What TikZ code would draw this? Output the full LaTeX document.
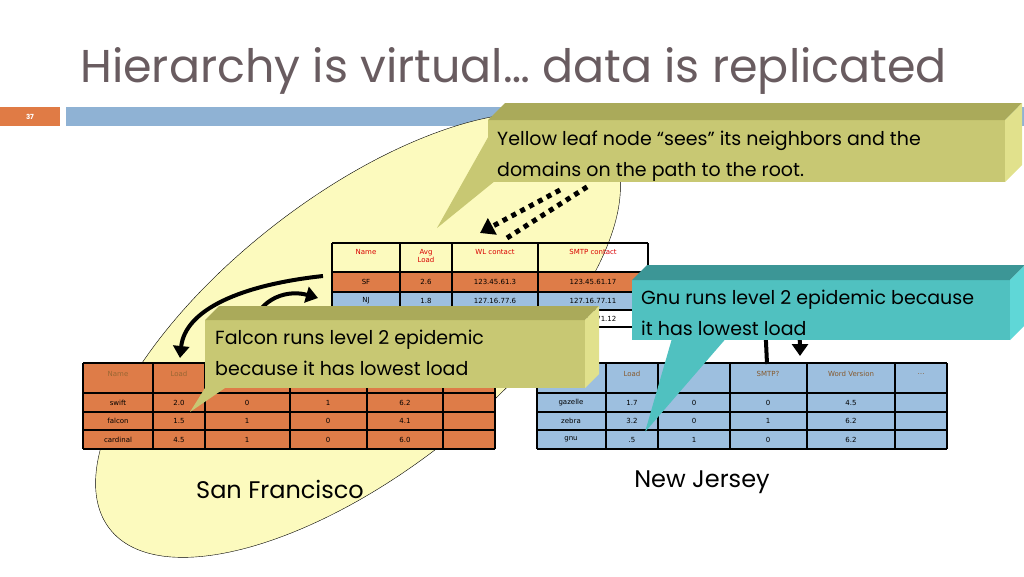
\documentclass[tikz,border=0pt]{standalone}
\usepackage{fontspec}
\setmainfont{Poppins}
\newfontfamily\cellfont{DejaVu Sans}
\usetikzlibrary{arrows.meta}
\definecolor{titlegray}{RGB}{105,92,96}
\definecolor{slideorange}{RGB}{224,123,69}
\definecolor{slideblue}{RGB}{143,178,212}
\definecolor{cellorange}{RGB}{222,124,72}
\definecolor{cellblue}{RGB}{157,191,223}
\definecolor{paleyellow}{RGB}{252,250,190}
\definecolor{olivefront}{RGB}{200,200,115}
\definecolor{olivetop}{RGB}{170,170,90}
\definecolor{oliveside}{RGB}{225,225,140}
\definecolor{tealfront}{RGB}{80,193,192}
\definecolor{tealtop}{RGB}{60,150,150}
\definecolor{tealside}{RGB}{95,215,215}
\tikzset{
  cell/.style={font=\cellfont\fontsize{7}{8}\selectfont, align=center, inner sep=0pt},
  headcell/.style={cell, text=red!85!black},
  notetext/.style={font=\fontsize{19}{31}\selectfont, anchor=north west, align=left, inner sep=0pt},
  bigarrow/.style={line width=4pt, -{Triangle[length=12pt,width=16pt]}},
}
% 3D callout: front (x1,y1) (x2,y2), depth, tip, wedge base x's, colours
\newcommand\boxnote[9]{%
  \fill[#9front] (#6,#2-4) -- (#5) -- (#7,#2-4) -- cycle;
  \fill[#9front] (#1,#2) rectangle (#3,#4);
  \fill[#9top] (#1,#2) -- (#1+#8,#2-#8) -- (#3+#8,#2-#8) -- (#3,#2) -- cycle;
  \fill[#9side] (#3,#2) -- (#3+#8,#2-#8) -- (#3+#8,#4-#8) -- (#3,#4) -- cycle;
}
\begin{document}
\begin{tikzpicture}[x=1pt,y=-1pt]
\useasboundingbox (0,0) rectangle (1024,576);
% header of the slide
\node[anchor=base west, text=titlegray, font=\fontsize{46}{50}\selectfont, inner sep=0pt] (title) at (80,82) {Hierarchy is virtual… data is replicated};
\fill[slideorange] (0,107) rectangle (60,126);
\node[text=white, font=\bfseries\fontsize{7}{8}\selectfont] (pageno) at (30,116.5) {37};
\fill[slideblue] (66,107) rectangle (1024,126);
% domain of San Francisco
\draw[fill=paleyellow, thin] (358,335) ellipse [x radius=315, y radius=138, rotate=38];
% top table
\fill[cellorange] (332,272) rectangle (648,292);
\fill[cellblue] (332,292) rectangle (648,310);
\fill[white] (332,310) rectangle (648,327);
\foreach \y in {243,272,292,310,327} \draw[very thick] (332,\y) -- (648,\y);
\foreach \x in {332,400,452,538,648} \draw[very thick] (\x,243) -- (\x,327);
\foreach \x/\t [count=\i] in {366/Name,426/Avg\\Load,495/WL contact,593/SMTP contact}
  \node[headcell, anchor=north] (top-h\i) at (\x,249) {\t};
\foreach \x/\t [count=\i] in {366/SF,426/2.6,495/123.45.61.3,593/123.45.61.17}
  \node[cell] (top-sf\i) at (\x,282) {\t};
\foreach \x/\t [count=\i] in {366/NJ,426/1.8,495/127.16.77.6,593/127.16.77.11}
  \node[cell] (top-nj\i) at (\x,301) {\t};
\node[cell] (top-nj5) at (593,318.5) {127.16.71.12};
% left table
\fill[cellorange] (83,363) rectangle (495,449);
\foreach \y in {363,393,412,430,449} \draw[very thick] (83,\y) -- (495,\y);
\foreach \x in {83,153,205,290,367,443,495} \draw[very thick] (\x,363) -- (\x,449);
\node[cell, text=brown!80!black] (sf-h1) at (118,374) {Name};
\node[cell, text=brown!80!black] (sf-h2) at (179,374) {Load};
\foreach \y/\a/\b/\c/\d/\e [count=\r] in {402.5/swift/2.0/0/1/6.2, 421/falcon/1.5/1/0/4.1, 439.5/cardinal/4.5/1/0/6.0}
  \foreach \x/\t [count=\i] in {118/\a,179/\b,247/\c,328/\d,405/\e}
    \node[cell] (sf-\r-\i) at (\x,\y) {\t};
% right table
\fill[cellblue] (537,363) rectangle (947,449);
\foreach \y in {363,393,412,430,449} \draw[very thick] (537,\y) -- (947,\y);
\foreach \x in {537,606,658,730,807,895,947} \draw[very thick] (\x,363) -- (\x,449);
\foreach \x/\t [count=\i] in {632/Load,768/SMTP?,851/Word Version,921/…}
  \node[cell, text=brown!70!black] (nj-h\i) at (\x,374) {\t};
\foreach \y/\a/\b/\c/\d/\e [count=\r] in {402.5/gazelle/1.7/0/0/4.5, 421/zebra/3.2/0/1/6.2, 439.5/gnu/.5/1/0/6.2}
  \foreach \x/\t [count=\i] in {571/\a,632/\b,694/\c,768/\d,851/\e}
    \node[cell] (nj-\r-\i) at (\x,\y) {\t};
% arrows between levels
\coordinate (sfout) at (323,276);
\coordinate (sfin) at (180,358);
\draw[bigarrow] (sfout) .. controls (240,285) and (185,310) .. (sfin);
\coordinate (falconout) at (250,330);
\coordinate (njin) at (318,298);
\draw[bigarrow] (falconout) .. controls (260,295) and (290,290) .. (njin);
\coordinate (rootup) at (507,238);
\coordinate (rootdown) at (480,233);
\draw[line width=5pt, dash pattern=on 5pt off 5pt] (rootup) -- (590,185);
\draw[line width=5pt, dash pattern=on 5pt off 5pt, -{Triangle[length=14pt,width=18pt]}] (560,190) -- (rootdown);
\coordinate (gnuout) at (648,300);
\coordinate (gnuin) at (800,356);
\draw[bigarrow] (gnuout) .. controls (720,290) and (800,300) .. (gnuin);
\coordinate (gnuup) at (767,364);
\draw[line width=4pt] (gnuup) -- (765,320);
% callouts
\boxnote{488}{120}{1005}{182}{437,228}{500}{575}{17}{olive}
\node[notetext] (yellownote) at (497,131) {Yellow leaf node “sees” its neighbors and the\\domains on the path to the root.};
\boxnote{205}{320}{585}{388}{190,412}{250}{330}{14}{olive}
\node[notetext] (falconnote) at (215,330) {Falcon runs level 2 epidemic\\because it has lowest load};
\boxnote{632}{280}{1010}{340}{645,432}{690}{780}{15}{teal}
\node[notetext] (gnunote) at (641,290) {Gnu runs level 2 epidemic because\\it has lowest load};
% domain names
\node[font=\fontsize{24}{28}\selectfont] (sfname) at (280,489) {San Francisco};
\node[font=\fontsize{24}{28}\selectfont] (njname) at (702,482) {New Jersey};
\end{tikzpicture}
\end{document}
